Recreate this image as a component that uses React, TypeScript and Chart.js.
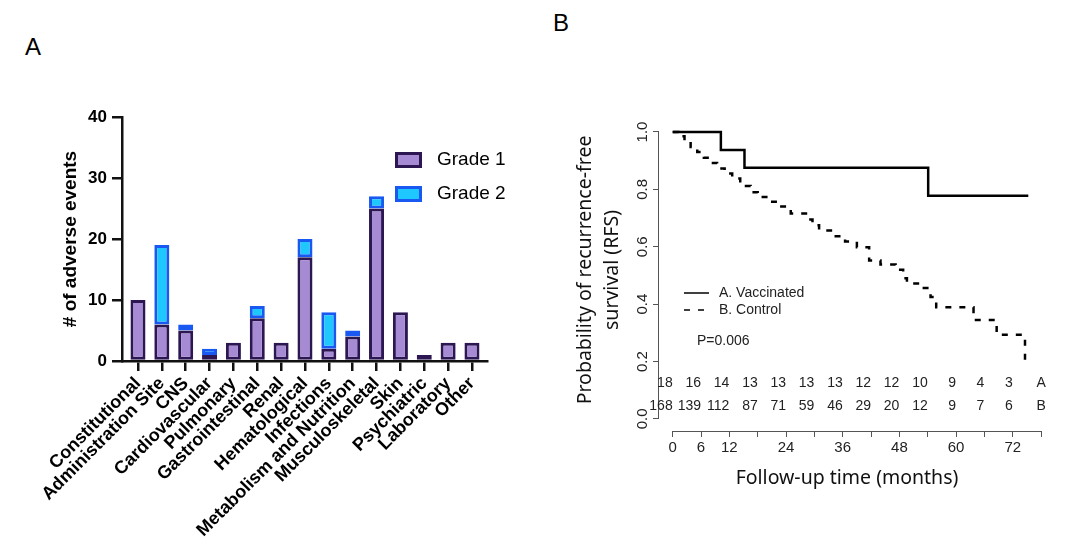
import { useEffect, useRef } from 'react'
import { Chart, registerables } from 'chart.js'

Chart.register(...registerables)

// panel A: adverse events by category
const categories = ['Constitutional', 'Administration Site', 'CNS', 'Cardiovascular', 'Pulmonary', 'Gastrointestinal', 'Renal', 'Hematological', 'Infections', 'Metabolism and Nutrition', 'Musculoskeletal', 'Skin', 'Psychiatric', 'Laboratory', 'Other']
const grade1 = [10, 6, 5, 1, 3, 7, 3, 17, 2, 4, 25, 8, 1, 3, 3]
const grade2 = [0, 13, 1, 1, 0, 2, 0, 3, 6, 1, 2, 0, 0, 0, 0]
const eventTicks = [0, 10, 20, 30, 40]

// panel B: Kaplan-Meier RFS
const vaccTime = [0, 10.2, 15.2, 54.1, 75.3]
const vaccSurv = [1, 0.9375, 0.875, 0.778, 0.778]
const ctrlTime = [0, 1.2, 2.5, 3.8, 5.2, 6.6, 8.0, 9.4, 11.0, 12.6, 14.3, 16.5, 18.0, 20.2, 22.5, 25.0, 28.8, 29.6, 31.0, 33.5, 36.5, 39.0, 41.6, 44.0, 47.2, 48.8, 49.6, 52.7, 54.6, 55.8, 63.7, 68.6, 74.6]
const ctrlSurv = [1, 0.985, 0.965, 0.948, 0.93, 0.91, 0.892, 0.873, 0.855, 0.838, 0.812, 0.79, 0.773, 0.757, 0.74, 0.716, 0.695, 0.675, 0.657, 0.637, 0.618, 0.598, 0.552, 0.538, 0.52, 0.49, 0.472, 0.456, 0.425, 0.389, 0.345, 0.293, 0.18]
const monthTicks = [0, 6, 12, 18, 24, 30, 36, 42, 48, 54, 60, 66, 72, 78]
const monthLabels = ['0', '6', '12', '', '24', '', '36', '', '48', '', '60', '', '72', '']
const survTicks = [0, 0.2, 0.4, 0.6, 0.8, 1.0]
const riskTimes = [0, 6, 12, 18, 24, 30, 36, 42, 48, 54, 60, 66, 72]
const riskA = [18, 16, 14, 13, 13, 13, 13, 12, 12, 10, 9, 4, 3]
const riskB = [168, 139, 112, 87, 71, 59, 46, 29, 20, 12, 9, 7, 6]
const groupLabels = ['A. Vaccinated', 'B. Control']
const pValue = 'P=0.006'

const SANS = '"Liberation Sans", Arial, sans-serif'
const TITLE_SANS = '"Noto Sans", "Open Sans", sans-serif'

const gradeLegend = {
  id: 'gradeLegend',
  afterDraw(chart: any) {
    const { ctx } = chart
    chart.data.datasets.forEach((ds: any, i: number) => {
      const y = 152 + i * 34
      ctx.save()
      ctx.fillStyle = ds.borderColor
      ctx.fillRect(395, y, 27, 16)
      ctx.fillStyle = ds.backgroundColor
      ctx.fillRect(398, y + 3, 21, 10)
      ctx.fillStyle = '#000'
      ctx.font = `19px ${SANS}`
      ctx.textBaseline = 'middle'
      ctx.fillText(ds.label, 437, y + 8)
      ctx.restore()
    })
  }
}

const kmDecor = {
  id: 'kmDecor',
  afterDraw(chart: any) {
    const { ctx, chartArea } = chart
    const x = chart.scales.x
    const y = chart.scales.y
    ctx.save()

    // R-style axes, only over the data range
    ctx.strokeStyle = '#555'
    ctx.lineWidth = 1
    ctx.beginPath()
    ctx.moveTo(x.getPixelForValue(monthTicks[0]), chartArea.bottom + 0.5)
    ctx.lineTo(x.getPixelForValue(monthTicks[monthTicks.length - 1]), chartArea.bottom + 0.5)
    ctx.moveTo(chartArea.left - 0.5, y.getPixelForValue(survTicks[0]))
    ctx.lineTo(chartArea.left - 0.5, y.getPixelForValue(survTicks[survTicks.length - 1]))
    ctx.stroke()

    // vertical y tick labels
    ctx.fillStyle = '#222'
    ctx.font = `15px ${SANS}`
    ctx.textAlign = 'center'
    ctx.textBaseline = 'middle'
    survTicks.forEach(v => {
      ctx.save()
      ctx.translate(chartArea.left - 16, y.getPixelForValue(v))
      ctx.rotate(-Math.PI / 2)
      ctx.fillText(v.toFixed(1), 0, 0)
      ctx.restore()
    })

    // numbers at risk
    const base = y.getPixelForValue(0)
    ctx.font = `14px ${SANS}`
    ctx.textAlign = 'right'
    riskTimes.forEach((t, i) => {
      ctx.fillText(String(riskA[i]), x.getPixelForValue(t), base - 36)
      ctx.fillText(String(riskB[i]), x.getPixelForValue(t), base - 13)
    })
    ctx.textAlign = 'center'
    ctx.fillText('A', x.getPixelForValue(78), base - 36)
    ctx.fillText('B', x.getPixelForValue(78), base - 13)

    // legend
    const lx = chartArea.left + 25
    ctx.strokeStyle = '#000'
    ctx.lineWidth = 1.5
    chart.data.datasets.forEach((ds: any, i: number) => {
      const ly = chartArea.top + 172.5 + i * 17
      ctx.setLineDash(ds.borderDash || [])
      ctx.beginPath()
      ctx.moveTo(lx, ly)
      ctx.lineTo(lx + 25, ly)
      ctx.stroke()
      ctx.setLineDash([])
      ctx.textAlign = 'left'
      ctx.fillText(ds.label, lx + 35, ly)
    })
    ctx.fillText(pValue, chartArea.left + 38, chartArea.top + 220.5)

    // axis titles
    ctx.fillStyle = '#111'
    ctx.font = `19.5px ${TITLE_SANS}`
    ctx.textAlign = 'center'
    ctx.fillText('Follow-up time (months)', 307, 478)
    ctx.save()
    ctx.translate(45, 270)
    ctx.rotate(-Math.PI / 2)
    ctx.fillText('Probability of recurrence-free', 0, 0)
    ctx.fillText('survival (RFS)', 0, 27)
    ctx.restore()

    ctx.restore()
  }
}

export default function App() {
  const refA = useRef<HTMLCanvasElement>(null)
  const refB = useRef<HTMLCanvasElement>(null)

  useEffect(() => {
    document.body.style.margin = '0'
    if (!refA.current || !refB.current) return

    const barChart = new Chart(refA.current, {
      type: 'bar',
      data: {
        labels: categories,
        datasets: [
          {
            label: 'Grade 1',
            data: grade1,
            backgroundColor: '#a68bd4',
            borderColor: '#2c1752',
            borderWidth: 3,
            borderSkipped: false,
            barPercentage: 0.63,
            categoryPercentage: 1
          },
          {
            label: 'Grade 2',
            data: grade2,
            backgroundColor: '#1fc7ff',
            borderColor: '#1a58f2',
            borderWidth: 3,
            borderSkipped: false,
            barPercentage: 0.63,
            categoryPercentage: 1
          }
        ]
      },
      options: {
        animation: false,
        responsive: false,
        layout: { padding: { left: 55, top: 117, right: 53, bottom: 0 } },
        plugins: { legend: { display: false }, tooltip: { enabled: false } },
        scales: {
          x: {
            stacked: true,
            afterBuildTicks: (s: any) => {
              s._startValue = -0.67
              s._valueRange = 15.3
            },
            afterFit: (s: any) => { s.height = 188 },
            grid: { drawOnChartArea: false, offset: false, tickLength: 10, lineWidth: 2.5, color: '#111' },
            border: { color: '#111', width: 2.5 },
            ticks: {
              autoSkip: false,
              minRotation: 45,
              maxRotation: 45,
              padding: 2,
              color: '#000',
              font: { family: SANS, size: 18, weight: 'bold' }
            }
          },
          y: {
            stacked: true,
            min: 0,
            max: 40,
            afterBuildTicks: (s: any) => { s.ticks = eventTicks.map(v => ({ value: v })) },
            afterFit: (s: any) => { s.width = 67 },
            grid: { drawOnChartArea: false, tickLength: 10, lineWidth: 2.5, color: '#111' },
            border: { color: '#111', width: 2.5 },
            ticks: { padding: 5, color: '#000', font: { family: SANS, size: 17, weight: 'bold' } },
            title: {
              display: true,
              text: '# of adverse events',
              color: '#000',
              padding: { top: 4, bottom: 4 },
              font: { family: SANS, size: 19, weight: 'bold' }
            }
          }
        }
      } as any,
      plugins: [gradeLegend]
    })

    const kmChart = new Chart(refB.current, {
      type: 'line',
      data: {
        datasets: [
          {
            label: groupLabels[0],
            data: vaccTime.map((t, i) => ({ x: t, y: vaccSurv[i] })),
            stepped: 'before',
            borderColor: '#000',
            borderWidth: 2.5,
            pointRadius: 0,
            fill: false
          },
          {
            label: groupLabels[1],
            data: ctrlTime.map((t, i) => ({ x: t, y: ctrlSurv[i] })),
            stepped: 'before',
            borderColor: '#000',
            borderWidth: 2.5,
            borderDash: [6, 8],
            pointRadius: 0,
            fill: false
          }
        ]
      },
      options: {
        animation: false,
        responsive: false,
        layout: { padding: { left: 0, top: 120.5, right: 29.5, bottom: 58 } },
        plugins: { legend: { display: false }, tooltip: { enabled: false } },
        scales: {
          x: {
            type: 'linear',
            bounds: 'data',
            min: -2.9,
            max: 80,
            afterBuildTicks: (s: any) => { s.ticks = monthTicks.map(v => ({ value: v })) },
            afterFit: (s: any) => { s.height = 60 },
            grid: { drawOnChartArea: false, tickLength: 6, lineWidth: 1, color: '#555' },
            border: { display: false },
            ticks: {
              autoSkip: false,
              maxRotation: 0,
              padding: 2,
              color: '#222',
              font: { family: SANS, size: 15 },
              callback: (_v: any, i: number) => monthLabels[i]
            }
          },
          y: {
            type: 'linear',
            bounds: 'data',
            min: -0.042,
            max: 1.04,
            afterBuildTicks: (s: any) => { s.ticks = survTicks.map(v => ({ value: v })) },
            afterFit: (s: any) => { s.width = 119 },
            grid: { drawOnChartArea: false, tickLength: 6, lineWidth: 1, color: '#555' },
            border: { display: false },
            ticks: { callback: () => '' }
          }
        }
      } as any,
      plugins: [kmDecor]
    })

    return () => {
      barChart.destroy()
      kmChart.destroy()
    }
  }, [])

  return (
    <div style={{ position: 'relative', width: 1080, height: 549, background: '#fff', fontFamily: SANS }}>
      <div style={{ position: 'absolute', left: 25, top: 35, fontSize: 24, lineHeight: 1 }}>A</div>
      <div style={{ position: 'absolute', left: 553, top: 11, fontSize: 24, lineHeight: 1 }}>B</div>
      <canvas ref={refA} width={540} height={549} style={{ position: 'absolute', left: 0, top: 0, width: 540, height: 549 }} />
      <canvas ref={refB} width={540} height={549} style={{ position: 'absolute', left: 540, top: 0, width: 540, height: 549 }} />
    </div>
  )
}
